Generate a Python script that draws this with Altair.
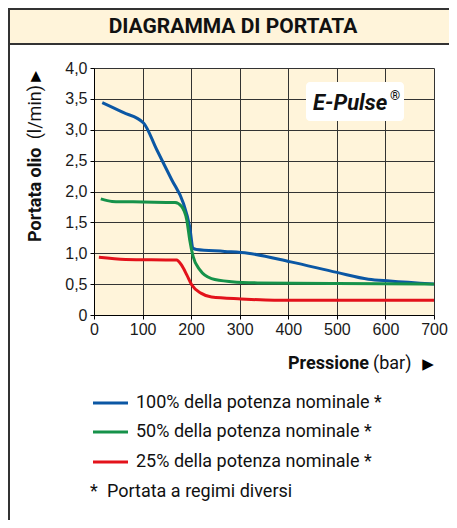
import altair as alt
import pandas as pd

# ---- data ----
p100_x = [17, 60, 102, 129, 160, 184, 197, 204, 211, 269, 317, 405, 500, 565, 609, 700]
p100_y = [3.44, 3.28, 3.11, 2.68, 2.19, 1.81, 1.43, 1.08, 1.06, 1.03, 1.00, 0.86, 0.69, 0.58, 0.55, 0.50]

p50_x = [14, 37, 102, 167, 180, 191, 197, 204, 218, 242, 283, 337, 500, 700]
p50_y = [1.88, 1.84, 1.83, 1.82, 1.76, 1.54, 1.22, 0.95, 0.73, 0.59, 0.54, 0.52, 0.51, 0.50]

p25_x = [10, 65, 170, 180, 191, 201, 221, 242, 303, 371, 500, 700]
p25_y = [0.935, 0.90, 0.89, 0.81, 0.65, 0.49, 0.35, 0.29, 0.26, 0.24, 0.24, 0.24]

series_names = ["100% della potenza nominale *", "50% della potenza nominale *", "25% della potenza nominale *"]
series_colors = ["#0B57A4", "#16924A", "#E3121B"]
footnote_mark = "*"
footnote = "Portata a regimi diversi"
title_text = "DIAGRAMMA DI PORTATA"
y_ticks = [0, 0.5, 1, 1.5, 2, 2.5, 3, 3.5, 4]
x_ticks = [0, 100, 200, 300, 400, 500, 600, 700]

rows = []
for name, xs, ys in zip(series_names, [p100_x, p50_x, p25_x], [p100_y, p50_y, p25_y]):
    for i, (a, b) in enumerate(zip(xs, ys)):
        rows.append({"serie": name, "pressione": a, "portata": b, "ord": i})
df = pd.DataFrame(rows)

W, H = 340, 247
PL, PT, PR, PB = 86, 60, 15, 205
CREAM = "#FFF4DA"
NARROW = "Roboto"
REG = "Liberation Sans"

one = pd.DataFrame({"k": [0]})

lines = alt.Chart(df).mark_line(strokeWidth=3, interpolate="monotone").encode(
    x=alt.X("pressione:Q", scale=alt.Scale(domain=[0, 700], nice=False),
            axis=alt.Axis(values=x_ticks, title=None, grid=True, gridColor="#333333",
                          gridOpacity=1, gridWidth=1, domainColor="#000000", tickColor="#000000",
                          tickSize=4, labelFont=REG, labelFontSize=16, labelColor="#1a1a1a",
                          labelPadding=2, labelFlush=False)),
    y=alt.Y("portata:Q", scale=alt.Scale(domain=[0, 4], nice=False),
            axis=alt.Axis(values=y_ticks, title=None, grid=True, gridColor="#333333",
                          gridOpacity=1, gridWidth=1, domainColor="#000000", tickColor="#000000",
                          tickSize=4, labelFont=REG, labelFontSize=16, labelColor="#1a1a1a",
                          labelPadding=3, labelFlush=False,
                          labelExpr="datum.value == 0 ? '0' : replace(format(datum.value, '.1f'), '.', ',')")),
    color=alt.Color("serie:N", scale=alt.Scale(domain=series_names, range=series_colors), legend=None),
    order="ord:Q",
)

# header band (runs off the right edge, as in the reference)
header = alt.Chart(one).mark_rect(fill=CREAM, stroke="#333333", strokeWidth=2).encode(
    x=alt.value(-PL + 1), x2=alt.value(W + PR + 12), y=alt.value(-PT + 1), y2=alt.value(-24))
header_txt = alt.Chart(one).mark_text(text=title_text, font=NARROW, fontSize=21, fontWeight="bold",
                                      color="#111111", align="center", baseline="middle").encode(
    x=alt.value(139), y=alt.value(-41))
left_border = alt.Chart(one).mark_rule(color="#333333", strokeWidth=2).encode(
    x=alt.value(-PL + 1), y=alt.value(-PT + 1), y2=alt.value(H + PB))

# E-Pulse badge
badge = alt.Chart(one).mark_rect(fill="white", cornerRadius=4).encode(
    x=alt.value(212), x2=alt.value(310), y=alt.value(14), y2=alt.value(53))
badge_txt = alt.Chart(one).mark_text(text="E-Pulse", font=NARROW, fontSize=22, fontWeight="bold",
                                     fontStyle="italic", color="#111111", align="left",
                                     baseline="alphabetic").encode(x=alt.value(219), y=alt.value(42))
badge_r = alt.Chart(one).mark_text(text="®", font=NARROW, fontSize=13, fontWeight="bold",
                                   color="#111111", align="left", baseline="alphabetic").encode(
    x=alt.value(296), y=alt.value(32))

# y title pieces
ytitle1 = alt.Chart(one).mark_text(text="Portata olio", font=NARROW, fontSize=18, fontWeight="bold",
                                   color="#111111", angle=270, align="left", baseline="middle").encode(
    x=alt.value(-58), y=alt.value(174))
ytitle2 = alt.Chart(one).mark_text(text="(l/min)", font=NARROW, fontSize=18,
                                   color="#111111", angle=270, align="right", baseline="middle").encode(
    x=alt.value(-58), y=alt.value(17))
ytri = alt.Chart(one).mark_text(text="▲", font="DejaVu Sans", fontSize=14,
                                color="#000000", align="center", baseline="middle").encode(
    x=alt.value(-58), y=alt.value(8))

# x title pieces
xtitle1 = alt.Chart(one).mark_text(text="Pressione", font=NARROW, fontSize=18, fontWeight="bold",
                                   color="#111111", align="right", baseline="middle").encode(
    x=alt.value(275), y=alt.value(296))
xtitle2 = alt.Chart(one).mark_text(text="(bar)", font=NARROW, fontSize=18,
                                   color="#111111", align="left", baseline="middle").encode(
    x=alt.value(279), y=alt.value(296))
xtri = alt.Chart(one).mark_text(text="▶", font="DejaVu Sans", fontSize=15,
                                color="#000000", align="center", baseline="middle").encode(
    x=alt.value(334), y=alt.value(296))

# legend
leg_y = [335, 364, 394]
leg_df = pd.DataFrame({"serie": series_names, "ly": leg_y})
leg_lines = alt.Chart(leg_df).mark_rule(strokeWidth=3).encode(
    x=alt.value(-1), x2=alt.value(34), y=alt.Y("ly:Q", scale=None),
    color=alt.Color("serie:N", scale=alt.Scale(domain=series_names, range=series_colors), legend=None))
leg_txt = alt.Chart(leg_df).mark_text(font=NARROW, fontSize=18, color="#111111", align="left",
                                      baseline="middle").encode(
    x=alt.value(42), y=alt.Y("ly:Q", scale=None), text="serie:N")
foot_star = alt.Chart(one).mark_text(text=footnote_mark, font=NARROW, fontSize=18, color="#111111",
                                     align="left", baseline="middle").encode(x=alt.value(-4), y=alt.value(424))
foot = alt.Chart(one).mark_text(text=footnote, font=NARROW, fontSize=18, color="#111111",
                                align="left", baseline="middle").encode(x=alt.value(13), y=alt.value(424))

chart = alt.layer(
    header, header_txt, left_border, lines, badge, badge_txt, badge_r,
    ytitle1, ytitle2, ytri, xtitle1, xtitle2, xtri, leg_lines, leg_txt, foot_star, foot
).resolve_scale(color="shared").properties(
    width=W, height=H, autosize="none",
    padding={"left": PL, "top": PT, "right": PR, "bottom": PB},
    background="white",
).configure_view(fill=CREAM, stroke=None)

chart.save("out.html", embed_options={"renderer": "svg", "actions": False})
